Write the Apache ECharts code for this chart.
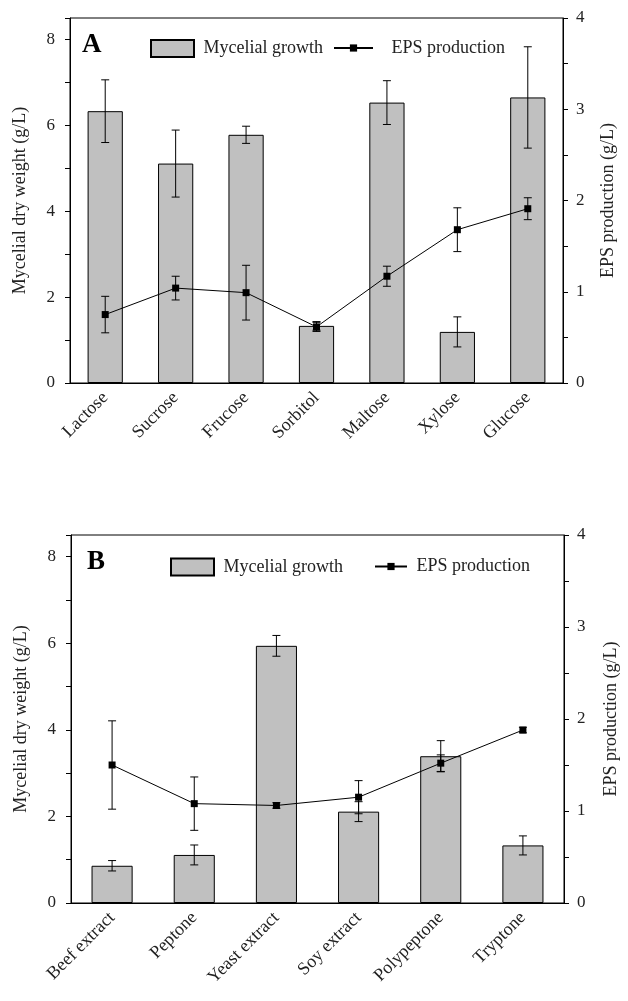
<!DOCTYPE html>
<html>
<head>
<meta charset="utf-8">
<script src="https://cdn.jsdelivr.net/npm/echarts@6/dist/echarts.min.js"></script>
<style>
  html, body { margin: 0; padding: 0; background: #fff; }
  #chart { width: 628px; height: 1001px; }
</style>
</head>
<body>
<div id="chart"></div>
<script>
// panel A: carbon sources
var catsA = ['Lactose', 'Sucrose', 'Frucose', 'Sorbitol', 'Maltose', 'Xylose', 'Glucose'];
var growthA = [6.33, 5.11, 5.78, 1.33, 6.53, 1.19, 6.65];
var growthErrA = [0.73, 0.78, 0.2, 0.1, 0.51, 0.35, 1.18];
var epsA = [0.75, 1.04, 0.99, 0.615, 1.17, 1.68, 1.91];
var epsErrA = [0.2, 0.13, 0.3, 0.05, 0.11, 0.24, 0.12];

// panel B: nitrogen sources
var catsB = ['Beef extract', 'Peptone', 'Yeast extract', 'Soy extract', 'Polypeptone', 'Tryptone'];
var growthB = [0.86, 1.11, 5.94, 2.11, 3.39, 1.33];
var growthErrB = [0.12, 0.23, 0.24, 0.23, 0.36, 0.22];
var epsB = [1.50, 1.08, 1.06, 1.15, 1.52, 1.88];
var epsErrB = [0.48, 0.29, 0.03, 0.18, 0.09, 0.03];

var FONT = 'Liberation Serif';
var TXT = '#222';

function errData(vals, errs) {
    return vals.map(function (v, i) { return [i, v - errs[i], v + errs[i]]; });
}

function renderErr(params, api) {
    var x = api.value(0);
    var lo = api.coord([x, api.value(1)]);
    var hi = api.coord([x, api.value(2)]);
    var w = 4;
    var style = { stroke: '#000', lineWidth: 1 };
    return {
        type: 'group',
        children: [
            { type: 'line', shape: { x1: hi[0], y1: hi[1], x2: lo[0], y2: lo[1] }, style: style },
            { type: 'line', shape: { x1: hi[0] - w, y1: hi[1], x2: hi[0] + w, y2: hi[1] }, style: style },
            { type: 'line', shape: { x1: lo[0] - w, y1: lo[1], x2: lo[0] + w, y2: lo[1] }, style: style }
        ]
    };
}

function catAxis(cats, grid) {
    return [{
        type: 'category', gridIndex: grid, data: cats,
        axisLine: { lineStyle: { color: '#000', width: 1 } },
        axisTick: { alignWithLabel: true, length: 6, interval: 0, lineStyle: { color: '#000' } },
        axisLabel: { rotate: 45, interval: 0, margin: 12, color: TXT, fontFamily: FONT, fontSize: 18 }
    }, {
        // short ticks on category boundaries
        type: 'category', gridIndex: grid, data: cats, position: 'bottom',
        axisLine: { show: false },
        axisTick: { length: 3, interval: 0, lineStyle: { color: '#000' } },
        axisLabel: { show: false }
    }];
}

function leftAxis(grid) {
    return {
        type: 'value', gridIndex: grid, min: 0, max: 8.5, interval: 1,
        name: 'Mycelial dry weight (g/L)', nameLocation: 'middle', nameGap: 41,
        nameTextStyle: { fontFamily: FONT, fontSize: 18, color: TXT },
        splitLine: { show: false },
        axisLine: { show: true, lineStyle: { color: '#000' } },
        axisTick: { show: true, length: 5, lineStyle: { color: '#000' } },
        axisLabel: {
            color: TXT, fontFamily: FONT, fontSize: 17, margin: 15,
            formatter: function (v) { return (v % 2 === 0 && v <= 8) ? String(v) : ''; }
        }
    };
}

function rightAxis(grid, gap) {
    return {
        type: 'value', gridIndex: grid, min: 0, max: 4, interval: 0.5, position: 'right',
        name: 'EPS production (g/L)', nameLocation: 'middle', nameGap: gap, nameRotate: 90,
        nameTextStyle: { fontFamily: FONT, fontSize: 18, color: TXT },
        splitLine: { show: false },
        axisLine: { show: true, lineStyle: { color: '#000' } },
        axisTick: { show: true, length: 5, lineStyle: { color: '#000' } },
        axisLabel: {
            color: TXT, fontFamily: FONT, fontSize: 17, margin: 13,
            formatter: function (v) { return v % 1 === 0 ? String(v) : ''; }
        }
    };
}

function panelSeries(xi, yl, yr, growth, gErr, eps, eErr) {
    return [{
        name: 'Mycelial growth', type: 'bar', xAxisIndex: xi, yAxisIndex: yl,
        data: growth, barWidth: '50%',
        itemStyle: { color: '#c0c0c0', borderColor: '#000', borderWidth: 1 },
        z: 2
    }, {
        name: 'growthErr', type: 'custom', xAxisIndex: xi, yAxisIndex: yl,
        data: errData(growth, gErr), renderItem: renderErr, z: 3
    }, {
        name: 'EPS production', type: 'line', xAxisIndex: xi, yAxisIndex: yr,
        data: eps, symbol: 'rect', symbolSize: 7,
        lineStyle: { color: '#000', width: 1 },
        itemStyle: { color: '#000' },
        z: 4
    }, {
        name: 'epsErr', type: 'custom', xAxisIndex: xi, yAxisIndex: yr,
        data: errData(eps, eErr), renderItem: renderErr, z: 5
    }];
}

// bar and line legend entries are placed separately to match spacing
function legends(left, top, lineLeft, lineWidth, pad) {
    var text = { fontFamily: FONT, fontSize: 18, color: TXT };
    return [{
        left: left, top: top, padding: 0, itemWidth: 43, itemHeight: 17, textStyle: text,
        formatter: ' {name}',
        data: [{ name: 'Mycelial growth', icon: 'rect' }]
    }, {
        left: lineLeft, top: top, padding: 0, itemWidth: lineWidth, itemHeight: 9, textStyle: text,
        formatter: pad + '{name}',
        data: ['EPS production']
    }];
}

var chart = echarts.init(document.getElementById('chart'));
chart.setOption({
    animation: false,
    backgroundColor: '#fff',
    title: [
        { text: 'A', left: 77, top: 27, textStyle: { fontFamily: FONT, fontSize: 27, fontWeight: 'bold', color: '#000' } },
        { text: 'B', left: 82, top: 544, textStyle: { fontFamily: FONT, fontSize: 27, fontWeight: 'bold', color: '#000' } }
    ],
    legend: legends(150, 39, 333, 39, '   ').concat(legends(170, 557.5, 374, 32, ' ')),
    grid: [
        { left: 70, top: 18, right: 65, height: 365, show: true, borderColor: '#000', borderWidth: 1 },
        { left: 71, top: 535, right: 56, height: 368, show: true, borderColor: '#000', borderWidth: 1 }
    ],
    xAxis: catAxis(catsA, 0).concat(catAxis(catsB, 1)),
    yAxis: [leftAxis(0), rightAxis(0, 36), leftAxis(1), rightAxis(1, 38)],
    series: panelSeries(0, 0, 1, growthA, growthErrA, epsA, epsErrA)
        .concat(panelSeries(2, 2, 3, growthB, growthErrB, epsB, epsErrB))
});
</script>
</body>
</html>
